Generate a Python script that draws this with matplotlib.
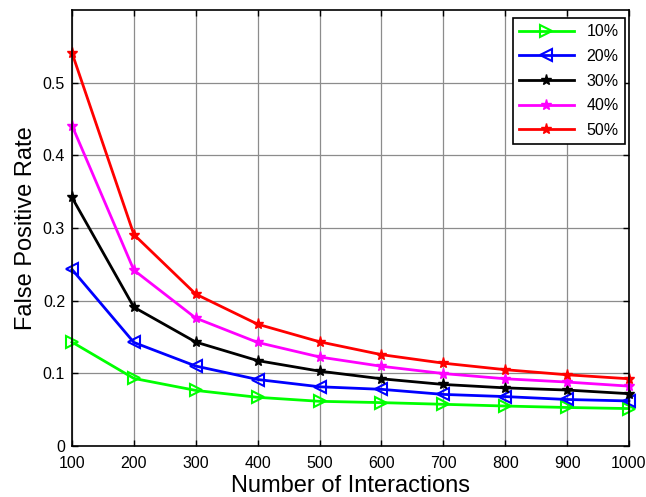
import numpy as np
import matplotlib
matplotlib.use('Agg')
import matplotlib.pyplot as plt

plt.rcParams['font.family'] = ['Liberation Sans', 'DejaVu Sans']

# data
interactions = [100, 200, 300, 400, 500, 600, 700, 800, 900, 1000]
fpr_10 = [0.143, 0.093, 0.0765, 0.067, 0.0615, 0.0597, 0.0574, 0.055, 0.053, 0.0515]
fpr_20 = [0.243, 0.1425, 0.110, 0.0915, 0.0815, 0.078, 0.071, 0.068, 0.064, 0.062]
fpr_30 = [0.342, 0.191, 0.143, 0.1175, 0.103, 0.0925, 0.0847, 0.080, 0.077, 0.072]
fpr_40 = [0.441, 0.242, 0.176, 0.1425, 0.1225, 0.1097, 0.0997, 0.0925, 0.088, 0.0824]
fpr_50 = [0.541, 0.291, 0.209, 0.1676, 0.1434, 0.1257, 0.114, 0.105, 0.098, 0.0925]
labels = ['10%', '20%', '30%', '40%', '50%']
colors = ['#00ff00', '#0000ff', '#000000', '#ff00ff', '#ff0000']
markers = ['>', '<', '*', '*', '*']

W, H = 646, 497
fig = plt.figure(figsize=(W / 100, H / 100), dpi=100)
# axes box in pixels: left 72, right 629, top 10, bottom 446
ax = fig.add_axes([72 / W, (H - 446) / H, (629 - 72) / W, (446 - 10) / H])

series = [fpr_10, fpr_20, fpr_30, fpr_40, fpr_50]
for ys, lab, c, m in zip(series, labels, colors, markers):
    if m in ('>', '<'):
        ax.plot(interactions, ys, color=c, lw=2, marker=m, markersize=9,
                markerfacecolor='none', markeredgewidth=1.5, label=lab, clip_on=False)
    else:
        ax.plot(interactions, ys, color=c, lw=2, marker=m, markersize=8,
                markeredgewidth=1, label=lab, clip_on=False)

ax.set_xlim(100, 1000)
ax.set_ylim(0, 0.6)
ax.set_xticks(interactions)
ax.set_yticks([0, 0.1, 0.2, 0.3, 0.4, 0.5])
ax.set_yticklabels(['0', '0.1', '0.2', '0.3', '0.4', '0.5'])
ax.grid(True, color='#8c8c8c', lw=0.9)
ax.set_axisbelow(True)
ax.tick_params(direction='in', top=True, right=True, labelsize=11.5, length=4, width=1)
ax.tick_params(axis='x', pad=7)
ax.tick_params(axis='y', pad=5)
for s in ax.spines.values():
    s.set_linewidth(1.2)

ax.set_xlabel('Number of Interactions', fontsize=17)
ax.set_ylabel('False Positive Rate', fontsize=17)
ax.xaxis.set_label_coords(0.5, -0.066)
ax.yaxis.set_label_coords(-0.063, 0.5)

leg = ax.legend(loc='upper right', bbox_to_anchor=(625 / W, (H - 18) / H),
                bbox_transform=fig.transFigure, borderaxespad=0,
                fontsize=11.5, fancybox=False, framealpha=1,
                edgecolor='black', handlelength=3.4,
                labelspacing=0.6, handletextpad=0.8)
leg.get_frame().set_linewidth(1.2)

fig.savefig('out.png', dpi=100)
